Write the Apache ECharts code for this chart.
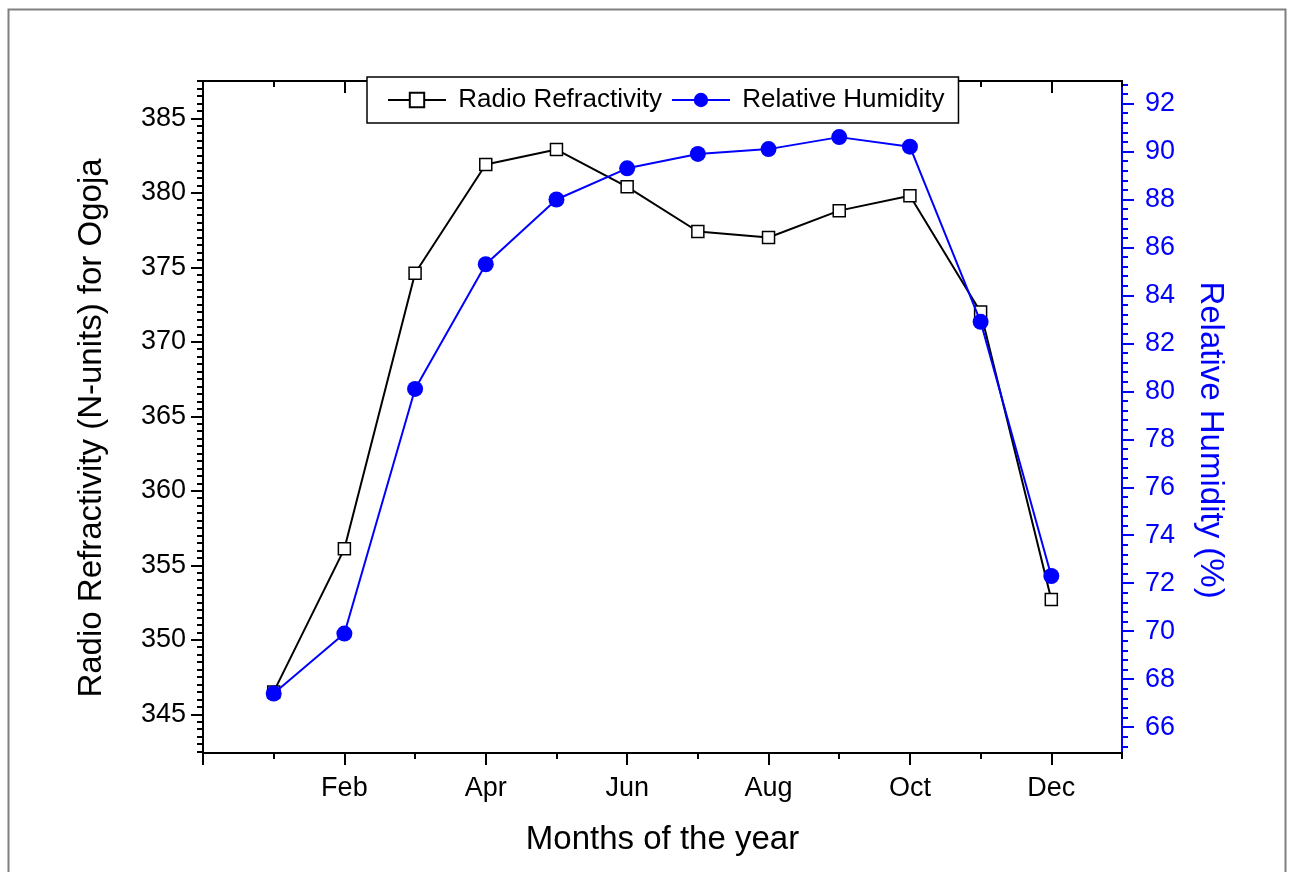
<!DOCTYPE html>
<html><head><meta charset="utf-8">
<script src="https://cdn.jsdelivr.net/npm/echarts@6/dist/echarts.min.js"></script>
<style>html,body{margin:0;padding:0;background:#fff}#c{width:1289px;height:872px}</style>
</head><body><div id="c"></div>
<script>
// ---- data ----
const months = ['Jan','Feb','Mar','Apr','May','Jun','Jul','Aug','Sep','Oct','Nov','Dec'];
const monthPos = [1,2,3,4,5,6,7,8,9,10,11,12];
const refractivity = [346.5, 356.1, 374.6, 381.9, 382.9, 380.4, 377.4, 377.0, 378.8, 379.8, 372.0, 352.7];
const humidity = [67.4, 69.9, 80.1, 85.3, 88.0, 89.3, 89.9, 90.1, 90.6, 90.2, 82.9, 72.3];
const xMajorTicks = [0,2,4,6,8,10,12];
const xMinorTicks = [1,3,5,7,9,11,13];
const xTickLabels = {2:'Feb',4:'Apr',6:'Jun',8:'Aug',10:'Oct',12:'Dec'};
const leftMajorTicks = [345,350,355,360,365,370,375,380,385];
const rightMajorTicks = [66,68,70,72,74,76,78,80,82,84,86,88,90,92];
const leftMinorTicks = [];
for (let k = 685; k <= 775; k++) { if (k % 10 !== 0) leftMinorTicks.push(k / 2); }
const rightMinorTicks = [];
for (let k = 163; k <= 232; k++) { if (k % 5 !== 0) rightMinorTicks.push(Math.round(k * 4) / 10); }

const F = 'Liberation Sans, Arial, sans-serif';
const BLUE = '#0000ff';
const XMIN = 0, XMAX = 13;
const LMIN = 342.4, LMAX = 387.5;
const RMIN = 64.92, RMAX = 92.94;
const TICKFONT = 27;

function axisBase(color) {
  return {
    type: 'value',
    axisLine: { show: true, onZero: false, lineStyle: { color: color, width: 2 } },
    splitLine: { show: false },
    minorTick: { show: false },
    minorSplitLine: { show: false }
  };
}
function xAx(pos, ticks, len, inside, withLabels) {
  const a = axisBase('#000');
  Object.assign(a, {
    min: XMIN, max: XMAX, position: pos,
    axisTick: { show: true, inside: inside, length: len, customValues: ticks, lineStyle: { color: '#000', width: 2 } },
    axisLabel: withLabels ? {
      show: true, customValues: xMajorTicks.filter(v => xTickLabels[v]),
      formatter: v => xTickLabels[v] || '', fontSize: TICKFONT, fontFamily: F, color: '#000', margin: 22
    } : { show: false }
  });
  return a;
}
function yAx(pos, min, max, ticks, len, color, withLabels) {
  const a = axisBase(color);
  Object.assign(a, {
    min: min, max: max, position: pos,
    axisTick: { show: true, inside: false, length: len, customValues: ticks, lineStyle: { color: color, width: 2 } },
    axisLabel: withLabels ? {
      show: true, customValues: ticks, formatter: v => String(Math.round(v)),
      fontSize: TICKFONT, fontFamily: F, color: color, margin: pos === 'left' ? 17 : 23
    } : { show: false }
  });
  return a;
}

const xAxes = [
  xAx('bottom', xMajorTicks, 12, false, true),
  xAx('bottom', xMinorTicks, 6, false, false),
  xAx('top', xMajorTicks, 12, true, false),
  xAx('top', xMinorTicks, 6, true, false)
];
Object.assign(xAxes[0], {
  name: 'Months of the year', nameLocation: 'middle', nameGap: 70,
  nameTextStyle: { fontSize: 33, fontFamily: F, color: '#000' }
});

const yAxes = [
  yAx('left', LMIN, LMAX, leftMajorTicks, 12, '#000', true),
  yAx('left', LMIN, LMAX, leftMinorTicks, 6, '#000', false),
  yAx('right', RMIN, RMAX, rightMajorTicks, 12, BLUE, true),
  yAx('right', RMIN, RMAX, rightMinorTicks, 6, BLUE, false)
];
Object.assign(yAxes[0], {
  name: 'Radio Refractivity (N-units) for Ogoja', nameLocation: 'middle', nameGap: 95, nameRotate: 90,
  nameTextStyle: { fontSize: 33, fontFamily: F, color: '#000', padding: [0, 22, 0, 0] }
});
Object.assign(yAxes[2], {
  name: 'Relative Humidity (%)', nameLocation: 'middle', nameGap: 72, nameRotate: -90,
  nameTextStyle: { fontSize: 33, fontFamily: F, color: BLUE, padding: [0, 0, 0, 46] }
});

const chart = echarts.init(document.getElementById('c'), null, { renderer: 'canvas' });
chart.setOption({
  animation: false,
  backgroundColor: '#fff',
  textStyle: { fontFamily: F },
  grid: { left: 203, right: 167, top: 81, bottom: 119, containLabel: false },
  graphic: [{
    type: 'rect', left: 6, top: 7, z: -10,
    shape: { x: 0, y: 0, width: 1277, height: 900 },
    style: { fill: 'none', stroke: '#808080', lineWidth: 2 }
  }],
  legend: {
    left: 367, top: 77, z: 10,
    backgroundColor: '#fff', borderColor: '#000', borderWidth: 1.5,
    padding: [10, 14, 10, 20],
    itemWidth: 58, itemHeight: 18, itemGap: 9,
    textStyle: { fontSize: 26, fontFamily: F, color: '#000' },
    formatter: n => ' ' + n,
    data: ['Radio Refractivity', 'Relative Humidity']
  },
  xAxis: xAxes,
  yAxis: yAxes,
  series: [
    {
      name: 'Radio Refractivity', type: 'line', xAxisIndex: 0, yAxisIndex: 0, z: 2,
      data: monthPos.map((m, i) => [m, refractivity[i]]),
      symbol: 'rect', symbolSize: 12,
      itemStyle: { color: '#fff', borderColor: '#000', borderWidth: 1.5 },
      lineStyle: { color: '#000', width: 2 }
    },
    {
      name: 'Relative Humidity', type: 'line', xAxisIndex: 0, yAxisIndex: 2, z: 3,
      data: monthPos.map((m, i) => [m, humidity[i]]),
      symbol: 'circle', symbolSize: 16,
      itemStyle: { color: BLUE },
      lineStyle: { color: BLUE, width: 2 }
    }
  ]
});
</script>
</body></html>
